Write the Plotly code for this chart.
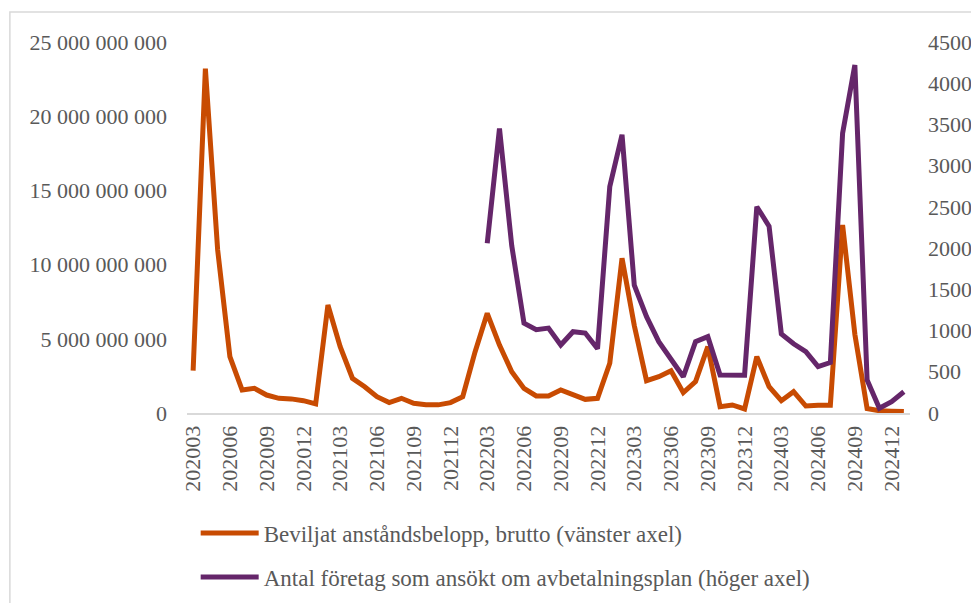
import plotly.graph_objects as go

# Månader (kategorier)
months = [
    "202003", "202004", "202005", "202006", "202007", "202008", "202009", "202010", "202011", "202012",
    "202101", "202102", "202103", "202104", "202105", "202106", "202107", "202108", "202109", "202110",
    "202111", "202112", "202201", "202202", "202203", "202204", "202205", "202206", "202207", "202208",
    "202209", "202210", "202211", "202212", "202301", "202302", "202303", "202304", "202305", "202306",
    "202307", "202308", "202309", "202310", "202311", "202312", "202401", "202402", "202403", "202404",
    "202405", "202406", "202407", "202408", "202409", "202410", "202411", "202412", "202501",
]

# Beviljat anståndsbelopp, brutto (kr) - vänster axel
belopp = [
    2.85e9, 23.2e9, 11.0e9, 3.8e9, 1.55e9, 1.66e9, 1.21e9, 0.99e9, 0.95e9, 0.83e9,
    0.61e9, 7.28e9, 4.47e9, 2.34e9, 1.77e9, 1.1e9, 0.7e9, 0.99e9, 0.65e9, 0.55e9,
    0.55e9, 0.7e9, 1.1e9, 4.1e9, 6.72e9, 4.58e9, 2.78e9, 1.66e9, 1.15e9, 1.15e9,
    1.55e9, 1.21e9, 0.92e9, 0.99e9, 3.35e9, 10.43e9, 5.9e9, 2.18e9, 2.45e9, 2.85e9,
    1.37e9, 2.11e9, 4.47e9, 0.43e9, 0.54e9, 0.27e9, 3.8e9, 1.77e9, 0.83e9, 1.44e9,
    0.47e9, 0.52e9, 0.52e9, 12.67e9, 5.3e9, 0.3e9, 0.15e9, 0.12e9, 0.1e9,
]

# Antal företag som ansökt om avbetalningsplan - höger axel (från 202203)
plan_months = months[24:]
antal = [
    2060, 3450, 2030, 1090, 1010, 1030, 825, 986, 970, 780,
    2745, 3375, 1550, 1168, 865, 643, 440, 865, 926, 461,
    455, 458, 2502, 2265, 960, 840, 744, 562, 612, 3393,
    4221, 400, 57, 137, 258,
]

left_ticks = [0, 5e9, 10e9, 15e9, 20e9, 25e9]
left_labels = ["0", "5 000 000 000", "10 000 000 000", "15 000 000 000",
               "20 000 000 000", "25 000 000 000"]
right_ticks = [0, 500, 1000, 1500, 2000, 2500, 3000, 3500, 4000, 4500]

ORANGE = "#C84B02"
PURPLE = "#65266A"
TEXT = "#595959"
FONT = "Liberation Serif"

fig = go.Figure()
fig.add_trace(go.Scatter(
    x=months, y=belopp, mode="lines",
    name="Beviljat anståndsbelopp, brutto (vänster axel)",
    line=dict(color=ORANGE, width=5),
    legend="legend",
))
fig.add_trace(go.Scatter(
    x=plan_months, y=antal, mode="lines",
    name="Antal företag som ansökt om avbetalningsplan (höger axel)",
    line=dict(color=PURPLE, width=5),
    yaxis="y2", legend="legend2",
))

# sidan har 8 px marginal i body, därför 971x595
fig.update_layout(
    width=971, height=595,
    margin=dict(l=179, r=69, t=34, b=190, autoexpand=False),
    paper_bgcolor="white", plot_bgcolor="white",
    font=dict(family=FONT, size=22, color=TEXT),
    showlegend=True,
    xaxis=dict(
        type="category", categoryorder="array", categoryarray=months,
        range=[-0.5, len(months) - 0.5],
        tickmode="array", tickvals=months[::3], ticktext=months[::3],
        tickangle=-90, showgrid=False, zeroline=False,
        showline=True, linecolor="#D9D9D9", linewidth=2,
        ticks="", ticklabelstandoff=2,
    ),
    yaxis=dict(
        range=[0, 25e9], tickmode="array", tickvals=left_ticks, ticktext=left_labels,
        showgrid=False, zeroline=False, showline=False, ticks="",
        ticklabelstandoff=19,
    ),
    yaxis2=dict(
        range=[0, 4500], tickmode="array", tickvals=right_ticks,
        overlaying="y", side="right",
        showgrid=False, zeroline=False, showline=False, ticks="",
        ticklabelstandoff=17,
    ),
    legend=dict(x=0.012, y=-0.3235, xanchor="left", yanchor="middle", itemwidth=58,
                bgcolor="rgba(0,0,0,0)", font=dict(size=23, color=TEXT)),
    legend2=dict(x=0.012, y=-0.442, xanchor="left", yanchor="middle", itemwidth=58,
                 bgcolor="rgba(0,0,0,0)", font=dict(size=23, color=TEXT)),
    shapes=[dict(type="rect", xref="paper", yref="paper",
                 x0=-0.245, x1=1.1, y0=-0.6, y1=1.081,
                 line=dict(color="#D9D9D9", width=1.5), layer="below")],
)

fig.write_html("out.html")
